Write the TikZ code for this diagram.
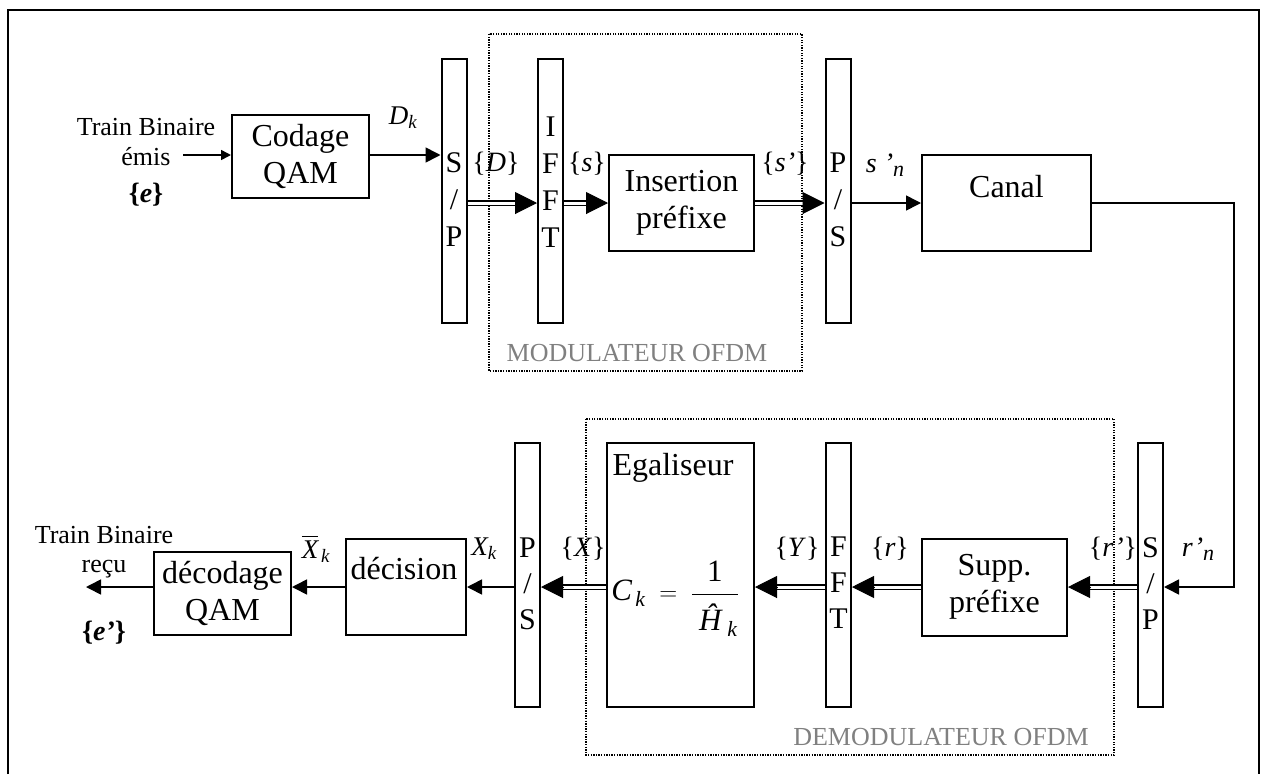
\documentclass[tikz,border=0pt]{standalone}
\usepackage{amsmath}
\usepackage{fontspec}
\setmainfont{Liberation Serif}
\usetikzlibrary{arrows.meta,calc}

% double-line connector with a large solid head
\newcommand\dblarrow[2]{%
  \draw[dblshaft] (#1) -- (#2);
  \draw[bigtip] ($(#2)!22pt!(#1)$) -- (#2);}

\tikzset{
  box/.style={draw, line width=2pt, inner sep=0pt, align=center,
    font=\fontsize{32}{37}\selectfont},
  boxtxt/.style={inner sep=0pt, anchor=base, font=\fontsize{32}{37}\selectfont},
  bar/.style={draw, line width=2pt, inner sep=0pt,
    minimum width=25pt, minimum height=264pt},
  barlbl/.style={inner sep=0pt, align=center, font=\fontsize{30}{37}\selectfont},
  barlblb/.style={barlbl, font=\fontsize{30}{36}\selectfont},
  lbl/.style={inner sep=0pt, anchor=base, font=\fontsize{28}{32}\selectfont},
  sidelbl/.style={inner sep=0pt, anchor=base, font=\fontsize{26}{30}\selectfont},
  arr/.style={line width=1.6pt, -{Triangle[length=15pt,width=15pt]}},
  arrsmall/.style={line width=1.6pt, -{Triangle[length=10pt,width=10pt]}},
  dblshaft/.style={line width=1.8pt, double=white, double distance=3pt, shorten >=20pt},
  bigtip/.style={line width=1pt, -{Triangle[length=22pt,width=22pt]}},
  grp/.style={draw, line width=1.1pt, dash pattern=on 1.3pt off 1.3pt},
  grplbl/.style={inner sep=0pt, anchor=base, text=black!50,
    font=\fontsize{26}{30}\selectfont},
}

\begin{document}
\begin{tikzpicture}[x=1pt,y=-1pt]
\useasboundingbox (0,0) rectangle (1261,774);

% outer frame
\draw[line width=2.8pt] (8,774) -- (8,10) -- (1259,10) -- (1259,774);

% grouping frames
\draw[grp] (489,34) rectangle (802,371);
\node[grplbl] (modlbl) at (637,361) {MODULATEUR OFDM};
\draw[grp] (586,419) rectangle (1114,755);
\node[grplbl] (demodlbl) at (941,745) {DEMODULATEUR OFDM};

% ---------- transmitter ----------
\node[sidelbl] (tx1) at (146,135) {Train Binaire};
\node[sidelbl] (tx2) at (146,165) {émis};
\node[lbl] (tx3) at (146,202) {\textbf{\{\textit{e}\}}};

\node[box, minimum width=137pt, minimum height=83pt] (codage) at (300.5,156) {Codage\\QAM};
\node[bar] (sp1) at (454,191) {};
\node[barlbl] (sp1t) at (454,200) {S\\/\\P};
\node[bar] (ifft) at (550.5,191) {};
\node[barlbl] (ifftt) at (550.5,182.5) {I\\F\\F\\T};
\node[box, minimum width=145pt, minimum height=96pt] (ins) at (681.5,203) {Insertion\\préfixe};
\node[bar] (ps1) at (838,191) {};
\node[barlbl] (ps1t) at (838,200) {P\\/\\S};
\node[box, minimum width=169pt, minimum height=96pt] (canal) at (1006.5,203) {};
\node[boxtxt] (canalt) at (1006.5,197) {Canal};

\node[lbl, font=\fontsize{27}{32}\selectfont] (dk) at (403,124) {$\mathit{D}_{\mathit{k}}$};
\node[lbl] (dset) at (496,171) {\{\textit{D}\}};
\node[lbl] (sset) at (587,171) {\{\textit{s}\}};
\node[lbl] (spset) at (785,171) {\{\textit{s’}\}};
\node[lbl] (spn) at (885,172) {\textit{s ’}\raisebox{-4pt}{\fontsize{22}{24}\selectfont\textit{n}}};

\coordinate (in1) at (183,155);
\draw[arrsmall] (in1) -- (in1 -| codage.west);
\draw[arr] (codage.east |- in1) -- (sp1.west |- in1);

\coordinate (a1) at (sp1.east |- ins.west);
\coordinate (b1) at (ifft.west |- ins.west);
\coordinate (a2) at (ifft.east |- ins.west);
\coordinate (b2) at (ps1.west |- ins.east);
\dblarrow{a1}{b1}
\dblarrow{a2}{ins.west}
\dblarrow{ins.east}{b2}
\draw[arr] (ps1.east |- canal.west) -- (canal.west);

% ---------- channel return ----------
\coordinate (c2) at (1234,587);
\node[bar] (sp2) at (1150.5,575) {};
\draw[arr] (canal.east) -| (c2) -- (sp2.east |- c2);

% ---------- receiver ----------
\node[barlblb] (sp2t) at (1150.5,584) {S\\/\\P};
\node[box, minimum width=145pt, minimum height=97pt] (supp) at (994.5,587) {Supp.\\préfixe};
\node[bar] (fft) at (838.5,575) {};
\node[barlblb] (fftt) at (838.5,583) {F\\F\\T};
\node[box, minimum width=147pt, minimum height=264pt] (egal) at (680.5,575) {};
\node[boxtxt] (egalt) at (673,475) {Egaliseur};
\node[inner sep=0pt, font=\fontsize{31}{34}\selectfont] (form) at (675,599)
  {$\mathit{C}_{\,\mathit{k}}\;=\;\dfrac{\mathrm{1}\rule[-9pt]{0pt}{0pt}}%
     {\rule{0pt}{33pt}\;\text{\itshape Ĥ}_{\;\mathit{k}}}$};
\node[bar] (ps2) at (527.5,575) {};
\node[barlblb] (ps2t) at (527.5,584) {P\\/\\S};
\node[box, minimum width=120pt, minimum height=96pt] (dec) at (406,587) {};
\node[boxtxt] (dect) at (404,579) {décision};
\node[box, minimum width=137pt, minimum height=83pt] (decod) at (222.5,593.5) {décodage\\QAM};

\node[lbl] (rpset) at (1113,556) {\{\textit{r’}\}};
\node[lbl] (rpn) at (1198,556) {\textit{r’}\raisebox{-4pt}{\fontsize{22}{24}\selectfont\textit{n}}};
\node[lbl] (rset) at (890,556) {\{\textit{r}\}};
\node[lbl] (yset) at (797,556) {\{\textit{Y}\}};
\node[lbl] (xset) at (583,556) {\{\textit{X}\}};
\node[lbl, font=\fontsize{27}{32}\selectfont] (xk) at (484,555) {$\mathit{X}_{\mathit{k}}$};
\node[lbl, font=\fontsize{27}{32}\selectfont] (xbk) at (316,558) {$\overline{\mathit{X}}_{\,\mathit{k}}$};

\node[sidelbl] (rx1) at (104,543) {Train Binaire};
\node[sidelbl] (rx2) at (104,572) {reçu};
\node[lbl] (rx3) at (104,640) {\textbf{\{\textit{e’}\}}};

\coordinate (d1) at (sp2.west |- supp.east);
\coordinate (d2) at (fft.east |- supp.west);
\coordinate (d3) at (fft.west |- supp.west);
\coordinate (d4) at (egal.east |- supp.west);
\coordinate (d5) at (egal.west |- supp.west);
\coordinate (d6) at (ps2.east |- supp.west);
\dblarrow{d1}{supp.east}
\dblarrow{supp.west}{d2}
\dblarrow{d3}{d4}
\dblarrow{d5}{d6}

\coordinate (out1) at (86,587);
\draw[arr] (ps2.west |- dec.east) -- (dec.east);
\draw[arr] (dec.west) -- (decod.east |- dec.west);
\draw[arr] (decod.west |- dec.west) -- (out1);
\end{tikzpicture}
\end{document}
